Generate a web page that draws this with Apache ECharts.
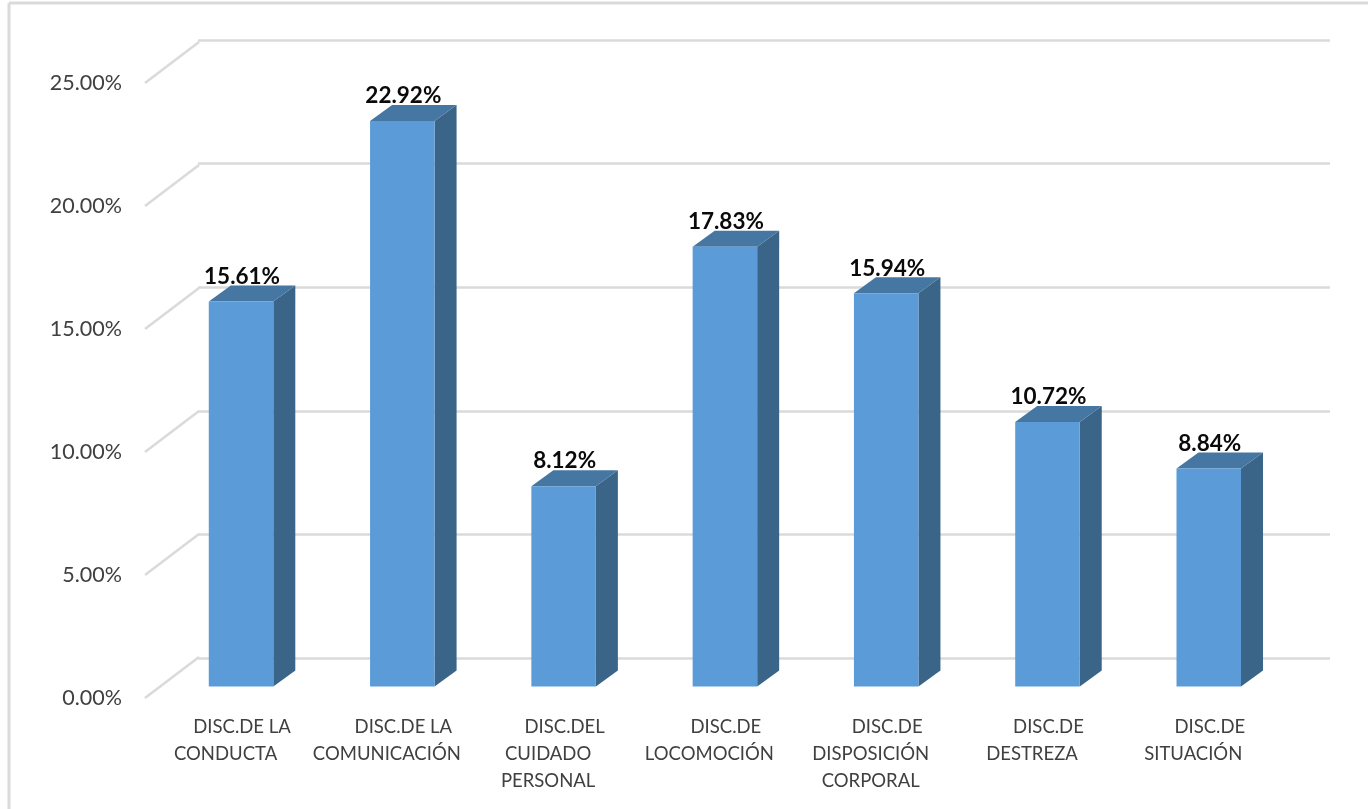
<!DOCTYPE html>
<html><head><meta charset="utf-8">
<style>html,body{margin:0;padding:0;background:#fff}#c{width:1368px;height:809px}</style>
<script src="https://cdn.jsdelivr.net/npm/echarts@6/dist/echarts.min.js"></script>
</head><body><div id="c"></div>
<script>
const categories = ["DISC.DE LA\nCONDUCTA","DISC.DE LA\nCOMUNICACIÓN","DISC.DEL\nCUIDADO\nPERSONAL","DISC.DE\nLOCOMOCIÓN","DISC.DE\nDISPOSICIÓN\nCORPORAL","DISC.DE\nDESTREZA","DISC.DE\nSITUACIÓN"];
const values = [15.61,22.92,8.12,17.83,15.94,10.72,8.84];
const ticks = [0,5,10,15,20,25];

const FONT = 'Lato, "Open Sans", sans-serif';
const DX = 22, DY = 16;
const GRID = '#DADADA';
const chart = echarts.init(document.getElementById('c'), null, {renderer:'canvas'});

function renderBar(params, api){
  const idx = api.value(0), v = api.value(1);
  const top = api.coord([idx, v]), base = api.coord([idx, 0]);
  const w = api.size([1,0])[0] * 0.4;
  const x0 = top[0]-w/2, x1 = top[0]+w/2, yt = top[1], yb = base[1];
  return {type:'group', children:[
    {type:'polygon', shape:{points:[[x1,yt],[x1+DX,yt-DY],[x1+DX,yb-DY],[x1,yb]]}, style:{fill:'#3A6488'}},
    {type:'polygon', shape:{points:[[x0,yt],[x0+DX,yt-DY],[x1+DX,yt-DY],[x1,yt]]}, style:{fill:'#4676A2'}},
    {type:'rect', shape:{x:x0,y:yt,width:w,height:yb-yt}, style:{fill:'#5B9BD8'}},
    {type:'text', x:top[0]+1, y:yt-25, style:{text:v.toFixed(2)+'%', font:'bold 22.5px '+FONT, fill:'#0a0a0a', align:'center', verticalAlign:'middle'}}
  ]};
}
function renderDiag(params, api){
  const p = api.coord([0, api.value(0)]);
  return {type:'line', shape:{x1:p[0],y1:p[1],x2:p[0]+54,y2:p[1]-41}, style:{stroke:GRID, lineWidth:2.5}};
}

chart.setOption({
  animation:false,
  backgroundColor:'#fff',
  graphic:[
    {type:'line', shape:{x1:9,y1:3,x2:1368,y2:3}, style:{stroke:GRID,lineWidth:3}},
    {type:'line', shape:{x1:9,y1:3,x2:9,y2:809}, style:{stroke:GRID,lineWidth:3}}
  ],
  grid:[
    {left:160.4, top:69.75, width:1129, height:616.75},
    {left:198, top:40, width:1132, height:618},
    {left:145, top:83, width:1, height:615}
  ],
  xAxis:[
    {gridIndex:0, type:'category', data:categories, axisLine:{show:false}, axisTick:{show:false},
     axisLabel:{interval:0, margin:27, fontFamily:FONT, color:'#404040',
       formatter:(s)=>{const p=s.split('\n');return p.map((t,i)=>(i===0?'{a|':'{b|')+t+'}').join('\n');},
       rich:{a:{fontFamily:FONT,fontSize:18.5,color:'#404040',lineHeight:27,padding:[0,0,0,2]},
             b:{fontFamily:FONT,fontSize:18.5,color:'#404040',lineHeight:27,padding:[0,31,0,0]}}}},
    {gridIndex:1, type:'value', min:0, max:1, show:false},
    {gridIndex:2, type:'value', min:0, max:1, show:false}
  ],
  yAxis:[
    {gridIndex:0, type:'value', min:0, max:25, interval:5, show:false},
    {gridIndex:1, type:'value', min:0, max:25, interval:5, axisLine:{show:false}, axisTick:{show:false}, axisLabel:{show:false},
     splitLine:{show:true, lineStyle:{color:GRID, width:2.5}}},
    {gridIndex:2, type:'value', min:0, max:25, interval:5, axisLine:{show:false}, axisTick:{show:false}, splitLine:{show:false},
     axisLabel:{margin:23, fontFamily:FONT, fontSize:21.5, color:'#404040', formatter:(v)=>v.toFixed(2)+'%'}}
  ],
  series:[
    {type:'custom', xAxisIndex:2, yAxisIndex:2, data:ticks.map(t=>[t]), encode:{y:0}, renderItem:renderDiag, silent:true, clip:false, z:1},
    {type:'custom', xAxisIndex:0, yAxisIndex:0, data:values.map((v,i)=>[i,v]), encode:{x:0,y:1}, renderItem:renderBar, clip:false, z:3}
  ]
});
</script></body></html>
